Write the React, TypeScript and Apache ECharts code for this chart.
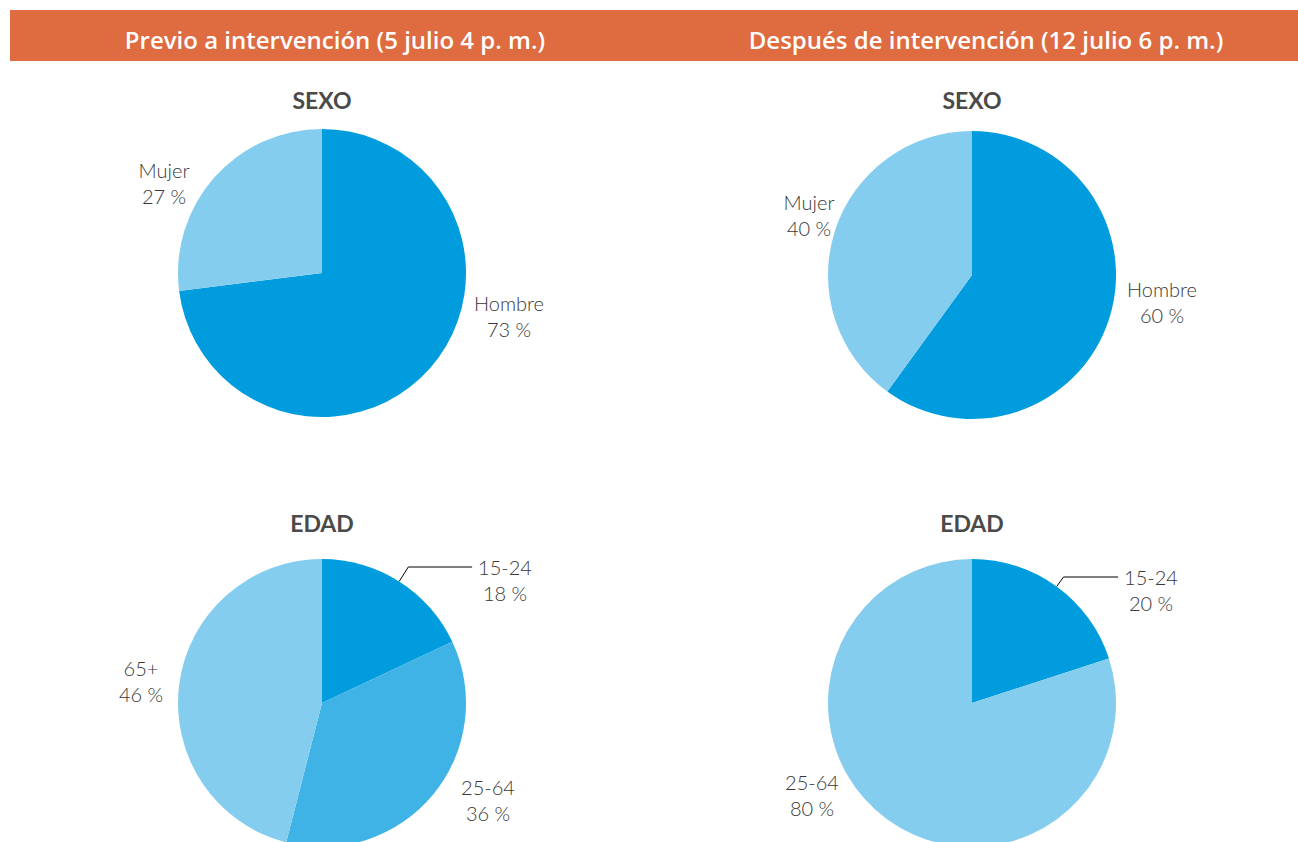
import React, { useEffect, useRef } from "react";
import * as echarts from "echarts";

const HEADERS = ["Previo a intervención (5 julio 4 p. m.)", "Después de intervención (12 julio 6 p. m.)"];
const SECTION_TITLES = ["SEXO", "EDAD"];

const sexoCategories = ["Hombre", "Mujer"];
const sexoAntes = [73, 27];
const sexoDespues = [60, 40];

const edadCategoriesAntes = ["15-24", "25-64", "65+"];
const edadAntes = [18, 36, 46];
const edadCategoriesDespues = ["15-24", "25-64"];
const edadDespues = [20, 80];

const DARK = "#009CDE";
const MID = "#40B3E6";
const LIGHT = "#84CDEE";
const LABEL_COLOR = "#383838";
const TITLE_COLOR = "#4a4a4a";
const HEADER_COLOR = "#DF6B41";

const R = 144;
const LEFT_X = 322;
const RIGHT_X = 972;

type Pt = [number, number];

function makeLayout(center: Pt, offsets: Pt[], values: number[], leader: boolean) {
  return (params: any) => {
    const i = params.dataIndex;
    const o = offsets[i];
    const lx = center[0] + o[0];
    const ly = center[1] + o[1];
    const res: any = { x: lx, y: ly, align: "center", verticalAlign: "middle" };
    if (leader && i === 0) {
      const total = values.reduce((a, b) => a + b, 0);
      const a = ((values[0] / total) * Math.PI * 2) / 2;
      const dx = Math.sin(a);
      const dy = -Math.cos(a);
      const edge: Pt = [center[0] + R * dx, center[1] + R * dy];
      const ey = ly - 13;
      const tt = Math.abs((ey - center[1]) / dy);
      const elbow: Pt = [center[0] + tt * dx, ey];
      const w = params.labelRect ? params.labelRect.width : 60;
      const end: Pt = [lx - w / 2 - 6, ey];
      res.labelLinePoints = [edge, elbow, end];
    }
    return res;
  };
}

function pieSeries(
  center: Pt,
  names: string[],
  values: number[],
  colors: string[],
  offsets: Pt[],
  leader: boolean
) {
  return {
    type: "pie",
    center,
    radius: R,
    startAngle: 90,
    clockwise: true,
    silent: true,
    data: names.map((n, i) => ({
      name: n,
      value: values[i],
      itemStyle: { color: colors[i] },
      labelLine: { show: leader && i === 0 },
    })),
    itemStyle: { borderWidth: 0 },
    label: {
      show: true,
      position: "outside",
      formatter: "{b}\n{c} %",
      fontFamily: "Lato",
      fontWeight: 300,
      fontSize: 20,
      lineHeight: 26,
      color: LABEL_COLOR,
    },
    labelLine: {
      show: leader,
      lineStyle: { color: "#000", width: 1 },
    },
    labelLayout: makeLayout(center, offsets, values, leader),
  };
}

export default function App() {
  const ref = useRef<HTMLDivElement>(null);
  useEffect(() => {
    if (!ref.current) return;
    const chart = echarts.init(ref.current, null, { renderer: "svg" });
    const textStyleTitle = {
      fill: TITLE_COLOR,
      font: "bold 23px Lato",
      align: "center",
      verticalAlign: "middle",
    };
    const headerFont = "600 24px 'Open Sans'";
    chart.setOption({
      animation: false,
      backgroundColor: "#ffffff",
      graphic: [
        { type: "rect", shape: { x: 10, y: 10, width: 1290, height: 51 }, style: { fill: HEADER_COLOR } },
        {
          type: "text",
          x: 335,
          y: 39,
          style: { text: HEADERS[0], fill: "#fff", font: headerFont, align: "center", verticalAlign: "middle" },
        },
        {
          type: "text",
          x: 986,
          y: 39,
          style: { text: HEADERS[1], fill: "#fff", font: headerFont, align: "center", verticalAlign: "middle" },
        },
        { type: "text", x: LEFT_X, y: 100, style: { ...textStyleTitle, text: SECTION_TITLES[0] } },
        { type: "text", x: RIGHT_X, y: 100, style: { ...textStyleTitle, text: SECTION_TITLES[0] } },
        { type: "text", x: LEFT_X, y: 523, style: { ...textStyleTitle, text: SECTION_TITLES[1] } },
        { type: "text", x: RIGHT_X, y: 523, style: { ...textStyleTitle, text: SECTION_TITLES[1] } },
      ],
      series: [
        pieSeries([LEFT_X, 273], sexoCategories, sexoAntes, [DARK, LIGHT], [[187, 43], [-158, -90]], false),
        pieSeries([RIGHT_X, 275], sexoCategories, sexoDespues, [DARK, LIGHT], [[190, 27], [-163, -60]], false),
        pieSeries(
          [LEFT_X, 703],
          edadCategoriesAntes,
          edadAntes,
          [DARK, MID, LIGHT],
          [[183, -123], [166, 97], [-181, -22]],
          true
        ),
        pieSeries(
          [RIGHT_X, 703],
          edadCategoriesDespues,
          edadDespues,
          [DARK, LIGHT],
          [[179, -113], [-160, 92]],
          true
        ),
      ],
    });
    return () => chart.dispose();
  }, []);
  return (
    <div
      ref={ref}
      style={{ position: "absolute", left: 0, top: 0, width: 1298, height: 842, overflow: "hidden" }}
    />
  );
}
